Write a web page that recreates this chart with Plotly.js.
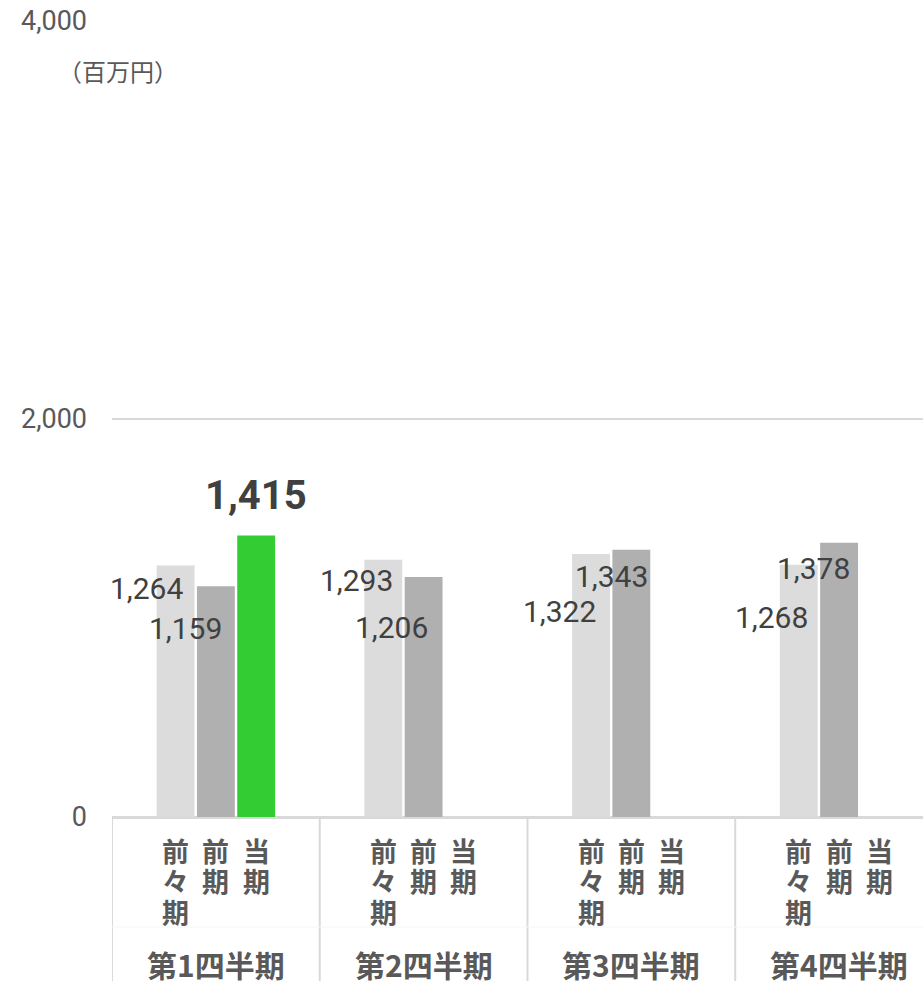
<!DOCTYPE html>
<html>
<head>
<meta charset="utf-8">
<script src="https://cdn.plot.ly/plotly-3.0.1.min.js"></script>
<style>html,body{margin:0;padding:0;background:#fff;}#chart{width:923px;height:981px;}</style>
</head>
<body>
<div id="chart"></div>
<script>
const quarters = ['第1四半期', '第2四半期', '第3四半期', '第4四半期'];
const periods = ['前々期', '前期', '当期'];
const prev2Values = [1264, 1293, 1322, 1268];
const prev1Values = [1159, 1206, 1343, 1378];
const currValues = [1415, null, null, null];
const yTickVals = [0, 2000, 4000];
const unitLabel = '（百万円）';

// styling / layout helpers (not data)
const colors = ['#dcdcdc', '#b0b0b0', '#33cc33'];
const BARGAP = 0.418, GROUPGAP = 0.06;
const slot = (1 - BARGAP) / 3;
// pixel offsets of each value label relative to its bar top centre [dx, dy(down)]
const labelShift = [
  [[-29, 23], [-27, 21], [-32, 58], [-27, 53]],
  [[-30, 42], [-32, 50], [-20, 27], [-26, 26]],
  [[0, -40], null, null, null]
];

const series = [prev2Values, prev1Values, currValues];
const traces = series.map((vals, j) => ({
  type: 'bar',
  name: periods[j],
  x: quarters,
  y: vals,
  marker: {color: colors[j]},
  hoverinfo: 'none'
}));

const annotations = [];
const fmt = v => v.toLocaleString('en-US');
series.forEach((vals, j) => {
  vals.forEach((v, i) => {
    if (v == null) return;
    const sh = labelShift[j][i];
    const bold = j === 2;
    annotations.push({
      xref: 'x', yref: 'y', x: i + (j - 1) * slot, y: v,
      text: fmt(v), showarrow: false, xanchor: 'center', yanchor: 'middle',
      xshift: sh[0], yshift: -sh[1],
      font: {family: 'Roboto, sans-serif', size: bold ? 40 : 30, color: '#404040', weight: bold ? 700 : 400}
    });
  });
});
// vertical sub-category labels
quarters.forEach((q, i) => {
  periods.forEach((p, j) => {
    Array.from(p).forEach((ch, k) => {
      annotations.push({
        xref: 'x', yref: 'paper', x: i + (j - 1) * slot, y: 0,
        text: ch, showarrow: false, xanchor: 'center', yanchor: 'middle',
        yshift: -(33 + k * 30.5),
        font: {family: '"Noto Sans CJK JP", sans-serif', size: 27, color: '#595959', weight: 700}
      });
    });
  });
  annotations.push({
    xref: 'x', yref: 'paper', x: i, y: 0,
    text: q, showarrow: false, xanchor: 'center', yanchor: 'middle',
    yshift: -147,
    font: {family: '"Noto Sans CJK JP", sans-serif', size: 30, color: '#595959', weight: 700}
  });
});
annotations.push({
  xref: 'paper', yref: 'paper', x: 0.0074, y: 1, xanchor: 'center', yanchor: 'middle',
  yshift: -49, text: unitLabel, showarrow: false,
  font: {family: '"Noto Sans CJK JP", sans-serif', size: 24, color: '#595959'}
});

const plotH = 981 - 21 - 164;
const shapes = [];
[-0.5, 0.5, 1.5, 2.5].forEach(xv => {
  shapes.push({type: 'line', xref: 'x', yref: 'paper', x0: xv, x1: xv, y0: 0, y1: -164 / plotH,
    line: {color: '#d9d9d9', width: 2}});
});
shapes.push({type: 'line', xref: 'x', yref: 'paper', x0: -0.5, x1: 3.41, y0: -110 / plotH, y1: -110 / plotH,
  line: {color: '#f6f6f6', width: 1}});

const layout = {
  width: 923, height: 981,
  margin: {l: 112, r: 0, t: 21, b: 164},
  paper_bgcolor: '#ffffff', plot_bgcolor: '#ffffff',
  barmode: 'group', bargap: BARGAP, bargroupgap: GROUPGAP,
  showlegend: false,
  xaxis: {
    type: 'category', range: [-0.5, 3.404], showticklabels: false, ticks: '',
    showgrid: false, zeroline: false, showline: true, linecolor: '#d9d9d9', linewidth: 2, fixedrange: true
  },
  yaxis: {
    range: [0, 4000], tickvals: yTickVals, tickformat: ',d',
    ticks: '', ticklabelstandoff: 24,
    tickfont: {family: 'Roboto, sans-serif', size: 27, color: '#595959'},
    showgrid: true, gridcolor: '#d9d9d9', gridwidth: 2,
    zeroline: true, zerolinecolor: '#d9d9d9', zerolinewidth: 2, showline: false, fixedrange: true
  },
  annotations: annotations,
  shapes: shapes
};

Plotly.newPlot('chart', traces, layout, {displayModeBar: false, staticPlot: true});
</script>
</body>
</html>
